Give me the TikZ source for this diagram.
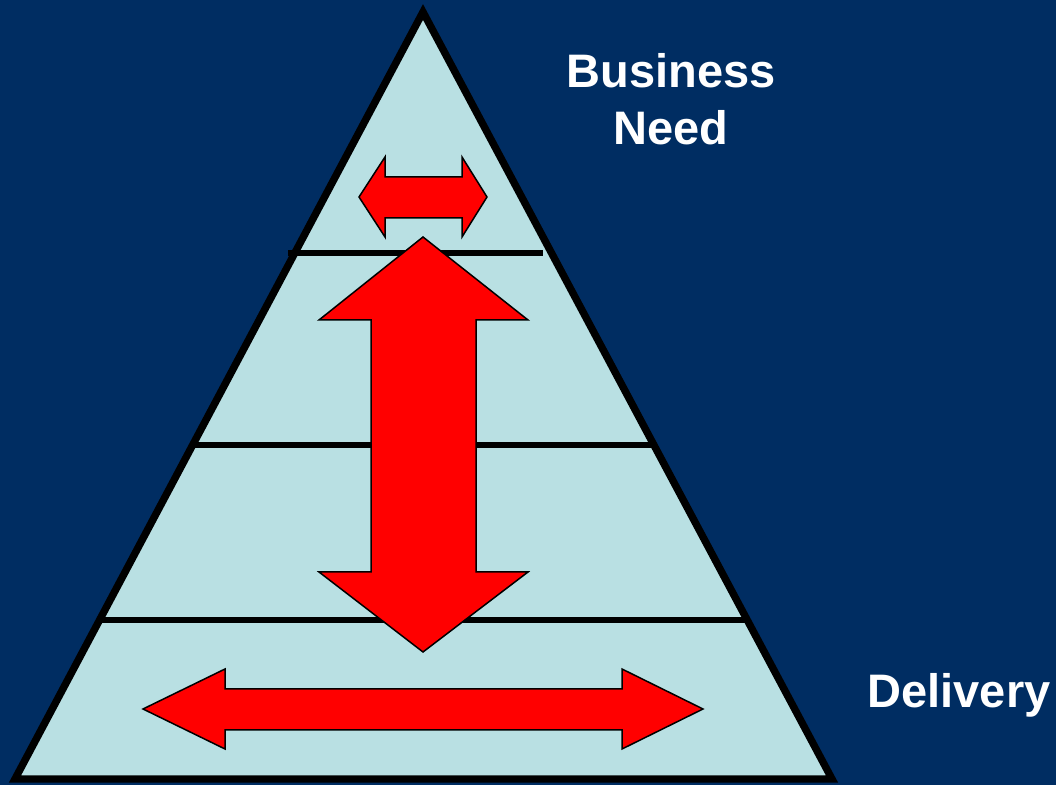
\documentclass[tikz,border=0pt]{standalone}
\usepackage{fontspec}
\setmainfont{Liberation Sans}
\usetikzlibrary{positioning}
\definecolor{navy}{RGB}{0,45,98}
\definecolor{layerblue}{RGB}{185,224,227}
\tikzset{
  pyramid/.style={draw=black, line width=3.7pt, fill=layerblue, line join=miter},
  tier/.style={draw=black, line width=2.6pt},
  redarrow/.style={draw=black, line width=0.75pt, fill=red, line join=miter},
  caption/.style={text=white, font=\bfseries\fontsize{23.5}{28.5}\selectfont, align=center}
}

\begin{document}
\begin{tikzpicture}[x=0.5pt,y=-0.5pt]
    \fill[navy] (0,0) rectangle (1056,785);
    \useasboundingbox (0,0) rectangle (1056,785);

    \coordinate (top) at (423,12);
    \coordinate (bl) at (15,779);
    \coordinate (br) at (832,779);
    \draw[pyramid] (top) -- (br) -- (bl) -- cycle;

    % tiers
    \draw[tier] (288,253) -- (543,253);
    \draw[tier] (195,445) -- (651,445);
    \draw[tier] (97,620) -- (749,620);

    % arrows
    \draw[redarrow] (359,197) -- (385,157) -- (385,177) -- (462,177) -- (462,157) -- (487,197)
        -- (462,237) -- (462,218) -- (385,218) -- (385,237) -- cycle;
    \draw[redarrow] (423,237) -- (528,320) -- (476,320) -- (476,572) -- (528,572) -- (423,652)
        -- (319,572) -- (371,572) -- (371,320) -- (319,320) -- cycle;
    \draw[redarrow] (143,709) -- (225,669) -- (225,689) -- (622,689) -- (622,669) -- (703,709)
        -- (622,749) -- (622,730) -- (225,730) -- (225,749) -- cycle;

    \node[caption] (need) at (671,99) {Business\\Need};
    \node[caption] (delivery) at (959,695) {Delivery};
\end{tikzpicture}
\end{document}
